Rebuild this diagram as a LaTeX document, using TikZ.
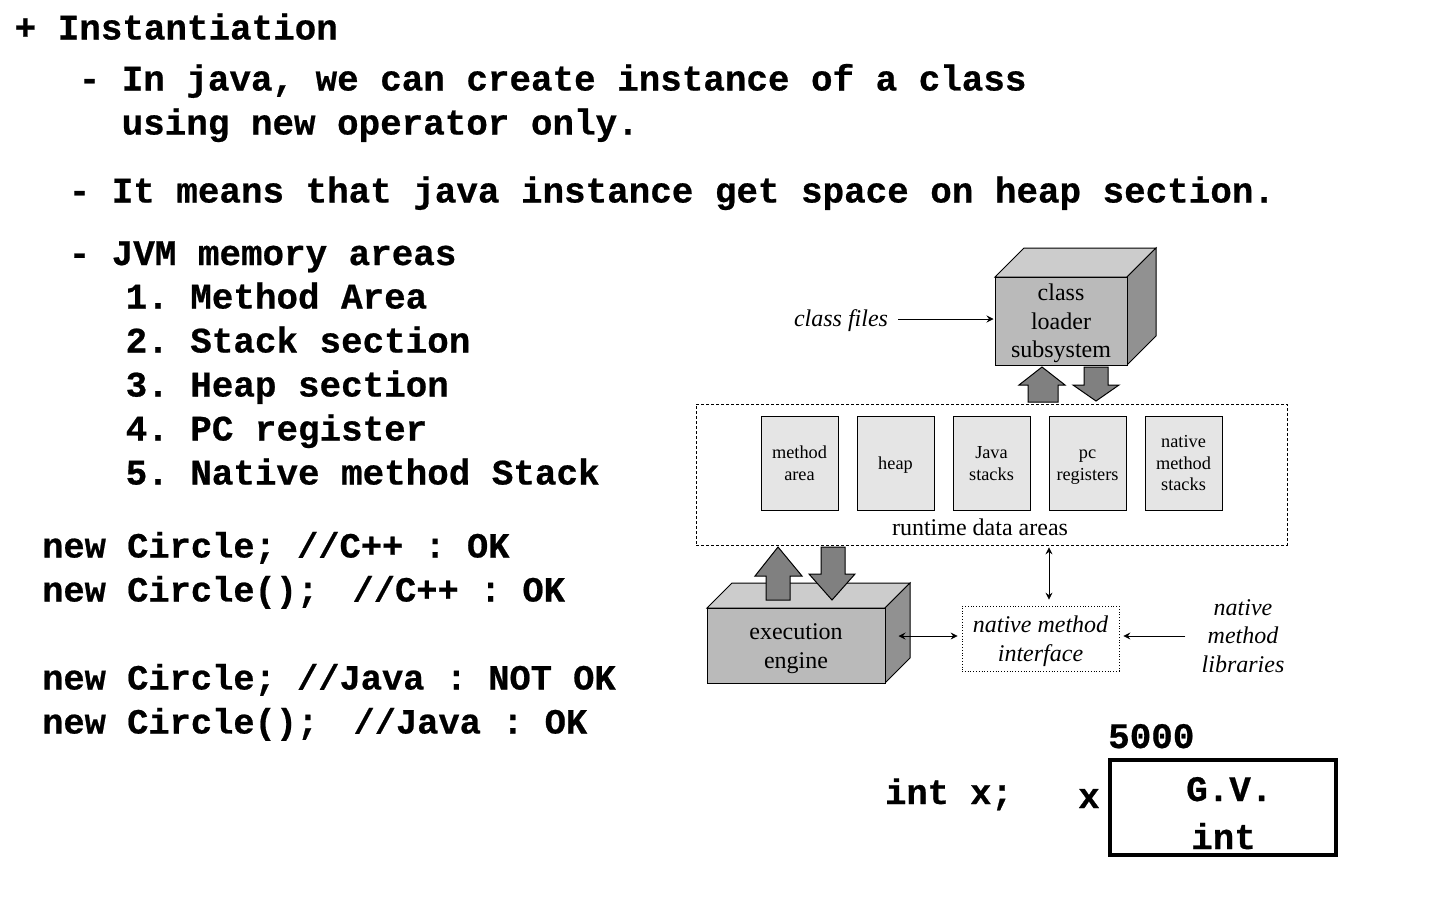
\documentclass[tikz,border=0pt]{standalone}
\usepackage{fontspec}
\setmainfont{Liberation Serif}
\newfontfamily\codefont{Liberation Mono}[BoldFont={Liberation Mono Bold},BoldFeatures={FakeBold=0.6}]
\usetikzlibrary{arrows.meta}
\frenchspacing
\newcommand\memtop{\rule{0pt}{19pt}}
\tikzset{
  x=1pt,y=-1pt,
  code/.style={anchor=base west,inner sep=0pt,font=\fontsize{35.9}{36}\selectfont\codefont\bfseries},
  codetight/.style={code,font=\fontsize{35.4}{36}\selectfont\codefont\bfseries},
  memarea/.style={draw=black,line width=0.9pt,fill=black!10,inner sep=0pt,align=center,
    font=\fontsize{18.3}{21.5}\selectfont},
  cubefront/.style={draw=black,line width=1pt,fill=black!27,inner sep=0pt,align=center,
    font=\fontsize{24}{28.5}\selectfont},
  cubetop/.style={draw=black,line width=1pt,fill=black!20},
  cubeside/.style={draw=black,line width=1pt,fill=black!43},
  blockarrow/.style={draw=black,line width=1pt,fill=black!50},
  label/.style={inner sep=0pt,align=center,font=\fontsize{24}{28.8}\selectfont\itshape},
  link/.style={draw=black,line width=0.8pt,-{Stealth[length=7pt,width=7pt,inset=2.5pt]}},
  duplex/.style={draw=black,line width=0.8pt,{Stealth[length=7pt,width=7pt,inset=2.5pt]}-{Stealth[length=7pt,width=7pt,inset=2.5pt]}},
}
\begin{document}
\begin{tikzpicture}
\useasboundingbox (0,0) rectangle (1440,900);
\fill[white] (0,0) rectangle (1440,900);

% left text
\node[code] (t1) at (14.5,39.5) {+ Instantiation};
\node[code] (t2) at (78.5,90.5) {- In java, we can create instance of a class};
\node[code] (t3) at (121.5,134.5) {using new operator only.};
\node[code] (t4) at (68.5,202.5) {- It means that java instance get space on heap section.};
\node[code] (t5) at (68.5,265) {- JVM memory areas};
\node[code] (t6) at (125.5,308.5) {1. Method Area};
\node[code] (t7) at (125.5,352.5) {2. Stack section};
\node[code] (t8) at (125.5,396.5) {3. Heap section};
\node[code] (t9) at (125.5,440.5) {4. PC register};
\node[code] (t10) at (125.5,484.5) {5. Native method Stack};
\node[codetight] (c1) at (42,557.5) {new Circle; //C++ : OK};
\node[codetight] (c2) at (42,601.5) {new Circle();\hspace{13pt} //C++ : OK};
\node[codetight] (c3) at (42,689.5) {new Circle; //Java : NOT OK};
\node[codetight] (c4) at (42,733.5) {new Circle();\hspace{14pt} //Java : OK};

% runtime data areas
\node[draw=black,line width=0.8pt,dash pattern=on 3pt off 2pt,minimum width=591pt,minimum height=141pt,inner sep=0pt] (rt) at (991.5,474.5) {};
\node[inner sep=0pt,font=\fontsize{24}{26}\selectfont] (rtl) at (980,527) {runtime data areas};
\node[memarea,minimum width=77pt,minimum height=94pt] (m1) at (799.5,463) {\memtop\strut method\\\strut area};
\node[memarea,minimum width=77pt,minimum height=94pt] (m2) at (895.5,463) {\memtop\strut heap};
\node[memarea,minimum width=77pt,minimum height=94pt] (m3) at (991.5,463) {\memtop\strut Java\\\strut stacks};
\node[memarea,minimum width=77pt,minimum height=94pt] (m4) at (1087.5,463) {\memtop\strut pc\\\strut registers};
\node[memarea,minimum width=77pt,minimum height=94pt] (m5) at (1183.5,463) {\memtop\strut native\\\strut method\\\strut stacks};

% class loader cube
\draw[cubetop] (995,277) -- (1024,248) -- (1156,248) -- (1127,277) -- cycle;
\draw[cubeside] (1127,277) -- (1156,248) -- (1156,336) -- (1127,365) -- cycle;
\node[cubefront,minimum width=132pt,minimum height=88pt] (cl) at (1061,321) {\rule{0pt}{22pt}class\\loader\\subsystem};

% execution engine cube
\draw[cubetop] (707,608) -- (732,583) -- (910,583) -- (885,608) -- cycle;
\draw[cubeside] (885,608) -- (910,583) -- (910,658) -- (885,683) -- cycle;
\node[cubefront,minimum width=178pt,minimum height=75pt] (ee) at (796,645.5) {\rule{0pt}{22pt}execution\\engine};

% block arrows
\draw[blockarrow] (1042,367) -- (1065,385) -- (1058,385) -- (1058,402) -- (1028,402) -- (1028,385) -- (1019,385) -- cycle;
\draw[blockarrow] (1084,367) -- (1108,367) -- (1108,385) -- (1119,385) -- (1096,401) -- (1073,385) -- (1084,385) -- cycle;
\draw[blockarrow] (778,547) -- (802,576) -- (790,576) -- (790,600) -- (766,600) -- (766,576) -- (755,576) -- cycle;
\draw[blockarrow] (821,547) -- (845,547) -- (845,574) -- (855,574) -- (832,600) -- (809,574) -- (821,574) -- cycle;

% native method interface
\node[draw=black,line width=0.8pt,dotted,minimum width=157pt,minimum height=65pt,inner sep=0pt,label] (nmi) at (1040.5,638.5) {\rule{0pt}{22pt}native method\\interface};
\node[label] (lib) at (1243,636) {native\\method\\libraries};
\node[label] (cf) at (841,321) {class files};

% connectors
\draw[link,shorten <=10pt,shorten >=1pt] (cf.east |- 0,319) -- (cl.west |- 0,319);
\draw[link,shorten <=16pt,shorten >=4pt] (lib.west |- 0,636) -- (nmi.east |- 0,636);
\draw[duplex,shorten <=2pt,shorten >=6pt] (rt.south -| 1049,0) -- (nmi.north -| 1049,0);
\draw[duplex,shorten <=13pt,shorten >=4pt] (ee.east |- 0,636) -- (nmi.west |- 0,636);

% variable box
\node[code] (addr) at (1108,748) {5000};
\node[codetight] (decl) at (885,804) {int x;};
\node[code] (var) at (1078,808) {x};
\node[draw=black,line width=4pt,minimum width=226pt,minimum height=95pt,inner sep=0pt] (vb) at (1223,807.5) {};
\node[code] (gv) at (1186,801) {G.V.};
\node[code] (ty) at (1191,849) {int};
\end{tikzpicture}
\end{document}
